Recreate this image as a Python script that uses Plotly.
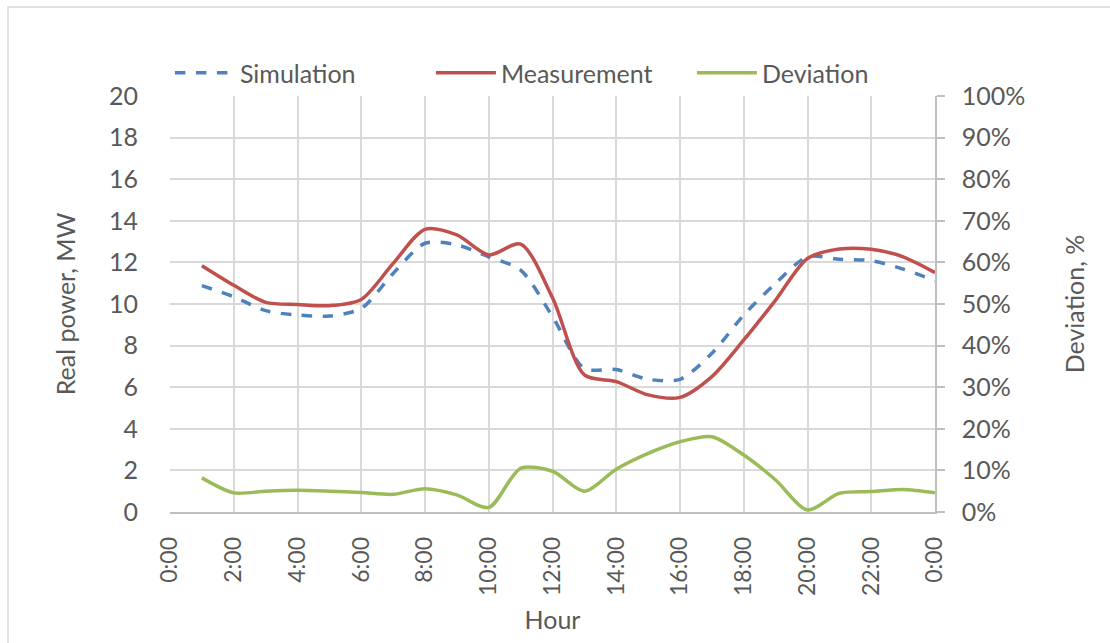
import plotly.graph_objects as go

hours = list(range(1, 25))
simulation = [10.88, 10.35, 9.68, 9.47, 9.42, 9.79, 11.47, 12.92, 12.84, 12.27, 11.63, 9.4,
              6.9, 6.85, 6.38, 6.38, 7.63, 9.47, 10.99, 12.27, 12.15, 12.08, 11.68, 11.12]
measurement = [11.84, 10.9, 10.08, 9.98, 9.92, 10.22, 11.95, 13.59, 13.32, 12.36, 12.88, 10.3,
               6.59, 6.27, 5.63, 5.51, 6.51, 8.27, 10.19, 12.19, 12.64, 12.63, 12.27, 11.51]
deviation = [8.2, 4.6, 5.0, 5.2, 5.0, 4.7, 4.25, 5.6, 4.1, 1.1, 10.5, 9.8,
             5.0, 10.3, 14.1, 16.9, 18.1, 13.7, 7.7, 0.5, 4.5, 4.9, 5.4, 4.6]

x_tickvals = list(range(0, 25, 2))
x_ticktext = ["0:00", "2:00", "4:00", "6:00", "8:00", "10:00", "12:00", "14:00",
              "16:00", "18:00", "20:00", "22:00", "0:00"]
y_tickvals = list(range(0, 21, 2))
y2_tickvals = list(range(0, 101, 10))
y2_ticktext = [f"{v}%" for v in y2_tickvals]

FONT = "Lato, 'Noto Sans', sans-serif"
TXT = "#595959"
GRID = "#d9d9d9"
FS = 25

fig = go.Figure()
fig.add_trace(go.Scatter(x=hours, y=simulation, name="Simulation", mode="lines",
                         line=dict(color="#4f81bd", width=3.5, dash="dash", shape="spline", smoothing=0.8)))
fig.add_trace(go.Scatter(x=hours, y=measurement, name="Measurement", mode="lines",
                         line=dict(color="#c0504d", width=3.5, shape="spline", smoothing=0.8)))
fig.add_trace(go.Scatter(x=hours, y=deviation, name="Deviation", mode="lines", yaxis="y2",
                         line=dict(color="#9bbb59", width=3.5, shape="spline", smoothing=0.8)))

fig.update_layout(
    width=1110, height=643,
    margin=dict(l=170, r=175, t=96, b=131),
    paper_bgcolor="white", plot_bgcolor="white",
    font=dict(family=FONT, color=TXT, size=FS),
    showlegend=True,
    legend=dict(orientation="h", x=-0.0001, xanchor="left", y=1.055, yanchor="middle",
                font=dict(size=FS, color=TXT), itemwidth=60, bgcolor="rgba(0,0,0,0)",
                entrywidth=186, entrywidthmode="pixels", tracegroupgap=0),
    xaxis=dict(range=[0, 24], tickvals=x_tickvals, ticktext=x_ticktext, tickangle=-90,
               showgrid=True, gridcolor=GRID, gridwidth=1.5, zeroline=False,
               showline=True, linecolor="#bfbfbf", linewidth=1.5,
               ticks="outside", ticklen=14, tickcolor="rgba(0,0,0,0)",
               tickfont=dict(size=23, color=TXT),
               title=dict(text="Hour", font=dict(size=FS, color=TXT), standoff=16)),
    yaxis=dict(range=[0, 20], tickvals=y_tickvals, showgrid=True, gridcolor=GRID, gridwidth=1.5,
               zeroline=False, showline=False,
               ticks="outside", ticklen=26, tickcolor="rgba(0,0,0,0)",
               tickfont=dict(size=FS, color=TXT),
               title=dict(text="Real power, MW", font=dict(size=FS, color=TXT), standoff=26)),
    yaxis2=dict(range=[0, 100], tickvals=y2_tickvals, ticktext=y2_ticktext, overlaying="y",
                side="right", showgrid=False, zeroline=False,
                showline=True, linecolor="#bfbfbf", linewidth=1.5,
                ticks="outside", ticklen=8, tickcolor="#bfbfbf", tickwidth=1.5,
                ticklabelstandoff=12,
                tickfont=dict(size=FS, color=TXT),
                title=dict(text="Deviation, %", font=dict(size=FS, color=TXT), standoff=42)),
    shapes=[dict(type="rect", xref="paper", yref="paper",
                 x0=(8 - 170) / 765, x1=(1130 - 170) / 765,
                 y0=(512 - 660) / 416, y1=(512 - 7) / 416,
                 line=dict(color="#d9d9d9", width=1.5), fillcolor="rgba(0,0,0,0)", layer="below")],
)

fig.write_html("out.html")
